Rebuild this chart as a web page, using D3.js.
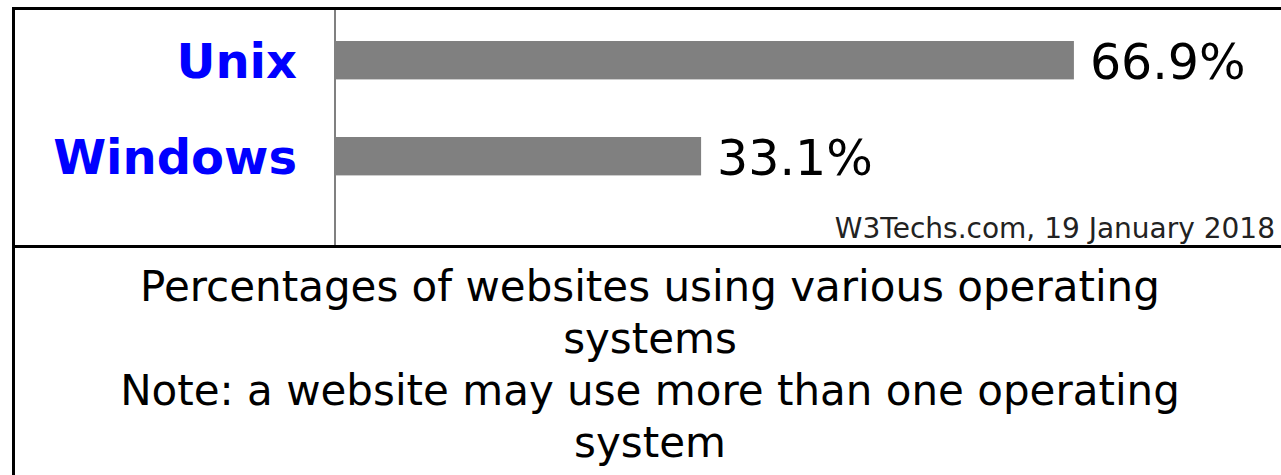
<!DOCTYPE html>
<html>
<head>
<meta charset="utf-8">
<script src="https://cdn.jsdelivr.net/npm/d3@7"></script>
<style>
  html, body { margin: 0; padding: 0; background: #fff; }
  svg { display: block; font-family: 'DejaVu Sans', Verdana, sans-serif; }
</style>
</head>
<body>
<div id="chart"></div>
<script>
const categories = ['Unix', 'Windows'];
const shares = [66.9, 33.1];
const source = 'W3Techs.com, 19 January 2018';
const captionLines = [
  'Percentages of websites using various operating',
  'systems',
  'Note: a website may use more than one operating',
  'system'
];

const width = 1281;
const height = 475;

const svg = d3.select('#chart').append('svg')
  .attr('width', width)
  .attr('height', height);

const x = d3.scaleLinear().domain([0, 100]).range([336, 1439]);
const y = d3.scaleBand().domain(categories).range([17, 199.4])
  .paddingInner(0.6).paddingOuter(0.25);

// bars
svg.append('g')
  .selectAll('rect')
  .data(categories)
  .join('rect')
  .attr('x', x(0))
  .attr('y', d => y(d))
  .attr('width', (d, i) => x(shares[i]) - x(0))
  .attr('height', y.bandwidth())
  .attr('fill', '#808080');

// category labels
svg.append('g')
  .selectAll('text')
  .data(categories)
  .join('text')
  .attr('x', 297)
  .attr('y', d => y(d) + y.bandwidth() / 2 + 18)
  .attr('text-anchor', 'end')
  .attr('font-size', 48)
  .attr('font-weight', 'bold')
  .attr('fill', '#0000ff')
  .text(d => d);

// value labels
svg.append('g')
  .selectAll('text')
  .data(categories)
  .join('text')
  .attr('x', (d, i) => x(shares[i]) + 16)
  .attr('y', d => y(d) + y.bandwidth() / 2 + 18.5)
  .attr('font-size', 49)
  .attr('fill', '#000')
  .text((d, i) => shares[i].toFixed(1) + '%');

svg.append('text')
  .attr('x', 1275)
  .attr('y', 238)
  .attr('text-anchor', 'end')
  .attr('font-size', 28)
  .attr('fill', '#222')
  .text(source);

// frame
svg.append('line')
  .attr('x1', 335).attr('x2', 335).attr('y1', 9).attr('y2', 246)
  .attr('stroke', '#808080').attr('stroke-width', 2);
svg.append('rect')
  .attr('x', 13.5).attr('y', 8.5)
  .attr('width', 1300).attr('height', 500)
  .attr('fill', 'none').attr('stroke', '#000').attr('stroke-width', 3);
svg.append('line')
  .attr('x1', 13).attr('x2', width).attr('y1', 246.5).attr('y2', 246.5)
  .attr('stroke', '#000').attr('stroke-width', 3);

// caption
svg.append('g')
  .selectAll('text')
  .data(captionLines)
  .join('text')
  .attr('x', 650)
  .attr('y', (d, i) => 301 + i * 52)
  .attr('text-anchor', 'middle')
  .attr('font-size', 42)
  .attr('fill', '#000')
  .text(d => d);
</script>
</body>
</html>
